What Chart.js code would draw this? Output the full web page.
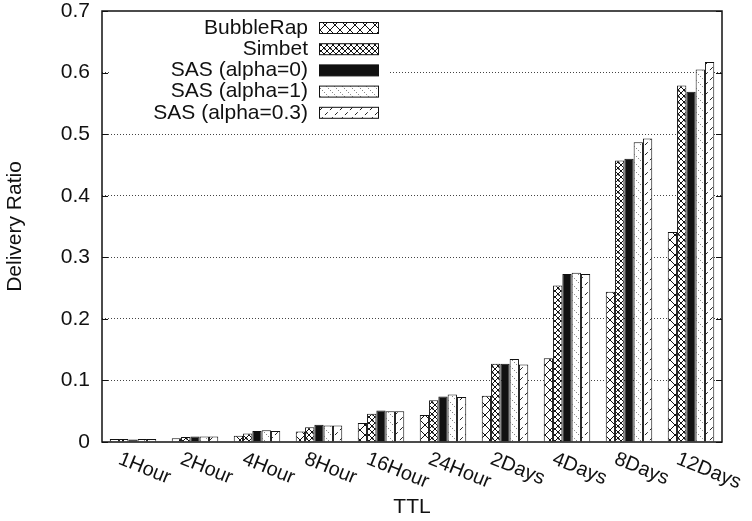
<!DOCTYPE html>
<html>
<head>
<meta charset="utf-8">
<script src="https://cdn.jsdelivr.net/npm/chart.js@4"></script>
<style>
  html, body { margin: 0; padding: 0; background: #fff; }
  #chart { display: block; }
</style>
</head>
<body>
<canvas id="chart" width="752" height="521"></canvas>
<script>
const categories = ['1Hour', '2Hour', '4Hour', '8Hour', '16Hour', '24Hour', '2Days', '4Days', '8Days', '12Days'];
const seriesNames = ['BubbleRap', 'Simbet', 'SAS (alpha=0)', 'SAS (alpha=1)', 'SAS (alpha=0.3)'];

const bubbleRap = [0.005, 0.006, 0.010, 0.017, 0.031, 0.044, 0.075, 0.136, 0.244, 0.341];
const simbet    = [0.005, 0.008, 0.014, 0.024, 0.046, 0.068, 0.127, 0.254, 0.457, 0.579];
const sasAlpha0 = [0.004, 0.009, 0.018, 0.028, 0.051, 0.074, 0.127, 0.273, 0.460, 0.569];
const sasAlpha1 = [0.005, 0.009, 0.019, 0.027, 0.050, 0.077, 0.135, 0.275, 0.487, 0.605];
const sasAlpha03 = [0.005, 0.009, 0.018, 0.027, 0.050, 0.073, 0.126, 0.273, 0.493, 0.617];

const yTicks = [0, 0.1, 0.2, 0.3, 0.4, 0.5, 0.6, 0.7];

const FONT = "'Liberation Sans', Arial, Helvetica, sans-serif";
const FSIZE = 21;

const canvas = document.getElementById('chart');
const ctx = canvas.getContext('2d');

// hatch patterns like gnuplot fill styles
function makePattern(kind) {
    const c = document.createElement('canvas');
    const p = c.getContext('2d');
    let s = 10;
    if (kind === 'dense') s = 6;
    if (kind === 'back') s = 8;
    c.width = s; c.height = s;
    p.fillStyle = '#fff';
    p.fillRect(0, 0, s, s);
    p.strokeStyle = '#111';
    p.lineWidth = 1;
    if (kind === 'cross' || kind === 'dense') {
        p.beginPath();
        p.moveTo(0, 0); p.lineTo(s, s);
        p.moveTo(s, 0); p.lineTo(0, s);
        p.stroke();
        if (kind === 'dense') {
            p.fillStyle = '#111';
            p.fillRect(0, 0, 1.5, 1.5);
        }
    } else if (kind === 'back') {
        p.strokeStyle = '#555';
        p.setLineDash([1, 2]);
        p.beginPath();
        p.moveTo(0, 0); p.lineTo(s, s);
        p.stroke();
    } else if (kind === 'fwd') {
        p.strokeStyle = '#222';
        p.setLineDash([4, 3]);
        p.beginPath();
        p.moveTo(0, s); p.lineTo(s, 0);
        p.stroke();
    }
    return ctx.createPattern(c, 'repeat');
}

const fills = [makePattern('cross'), makePattern('dense'), '#111', makePattern('back'), makePattern('fwd')];
const values = [bubbleRap, simbet, sasAlpha0, sasAlpha1, sasAlpha03];

const datasets = seriesNames.map((name, i) => ({
    label: name,
    data: values[i],
    backgroundColor: fills[i],
    borderColor: '#111',
    borderWidth: 1,
    categoryPercentage: 0.75,
    barPercentage: 1.0
}));

const extras = {
    id: 'extras',
    afterDraw(chart) {
        const c = chart.ctx;
        const a = chart.chartArea;
        const y = chart.scales.y;
        const x = chart.scales.x;

        // legend, right-aligned text with box on the right
        c.save();
        c.fillStyle = '#fff';
        c.fillRect(110, 16, 278, 107);
        c.font = FSIZE + 'px ' + FONT;
        c.textAlign = 'right';
        c.textBaseline = 'middle';
        seriesNames.forEach((name, i) => {
            const ry = 28 + i * 21.2;
            c.fillStyle = '#111';
            c.fillText(name, 308, ry);
            c.fillStyle = fills[i];
            c.fillRect(319, ry - 5.5, 59, 11);
            c.strokeStyle = '#111';
            c.lineWidth = 1;
            c.strokeRect(319.5, ry - 5.5, 59, 11);
        });
        c.restore();

        // frame
        c.save();
        c.strokeStyle = '#111';
        c.lineWidth = 1.5;
        c.strokeRect(a.left, a.top, a.right - a.left, a.bottom - a.top);

        // inward ticks on both sides
        c.lineWidth = 1;
        yTicks.forEach(v => {
            const py = Math.round(y.getPixelForValue(v)) + 0.5;
            c.beginPath();
            c.moveTo(a.left, py); c.lineTo(a.left + 6, py);
            c.moveTo(a.right, py); c.lineTo(a.right - 6, py);
            c.stroke();
        });
        c.restore();

        // rotated category labels
        c.save();
        c.font = '20px ' + FONT;
        c.fillStyle = '#111';
        c.textAlign = 'left';
        c.textBaseline = 'top';
        categories.forEach((lab, i) => {
            const px = x.getPixelForValue(i);
            c.save();
            c.translate(px - 10, a.bottom + 7);
            c.rotate(22 * Math.PI / 180);
            c.fillText(lab, 0, 0);
            c.restore();
        });
        c.restore();
    }
};

new Chart(ctx, {
    type: 'bar',
    data: { labels: categories, datasets: datasets },
    options: {
        responsive: false,
        animation: false,
        layout: { padding: { top: 11, right: 30, left: 0, bottom: 0 } },
        plugins: {
            legend: { display: false },
            tooltip: { enabled: false }
        },
        scales: {
            x: {
                grid: { display: false, drawTicks: false },
                border: { display: false },
                ticks: { display: false },
                title: { display: true, text: 'TTL', color: '#111', font: { family: FONT, size: FSIZE }, padding: { top: 0, bottom: 1 } },
                afterFit(s) { s.height = 79; }
            },
            y: {
                min: 0,
                max: 0.7,
                afterBuildTicks(s) { s.ticks = yTicks.map(v => ({ value: v })); },
                ticks: {
                    padding: 12,
                    color: '#111',
                    font: { family: FONT, size: FSIZE },
                    callback: v => (v === 0 ? '0' : v.toFixed(1))
                },
                grid: {
                    drawTicks: false,
                    lineWidth: 1,
                    color: c => (c.tick && c.tick.value > 0.01 && c.tick.value < 0.69 ? '#444' : 'rgba(0,0,0,0)')
                },
                border: { display: false, dash: [1, 2] },
                title: { display: true, text: 'Delivery Ratio', color: '#111', font: { family: FONT, size: FSIZE }, padding: { top: 3, bottom: 4 } },
                afterFit(s) {
                    s.width = 102;
                    s.paddingTop = 0;
                    s.paddingBottom = 0;
                }
            }
        }
    },
    plugins: [extras]
});
</script>
</body>
</html>
